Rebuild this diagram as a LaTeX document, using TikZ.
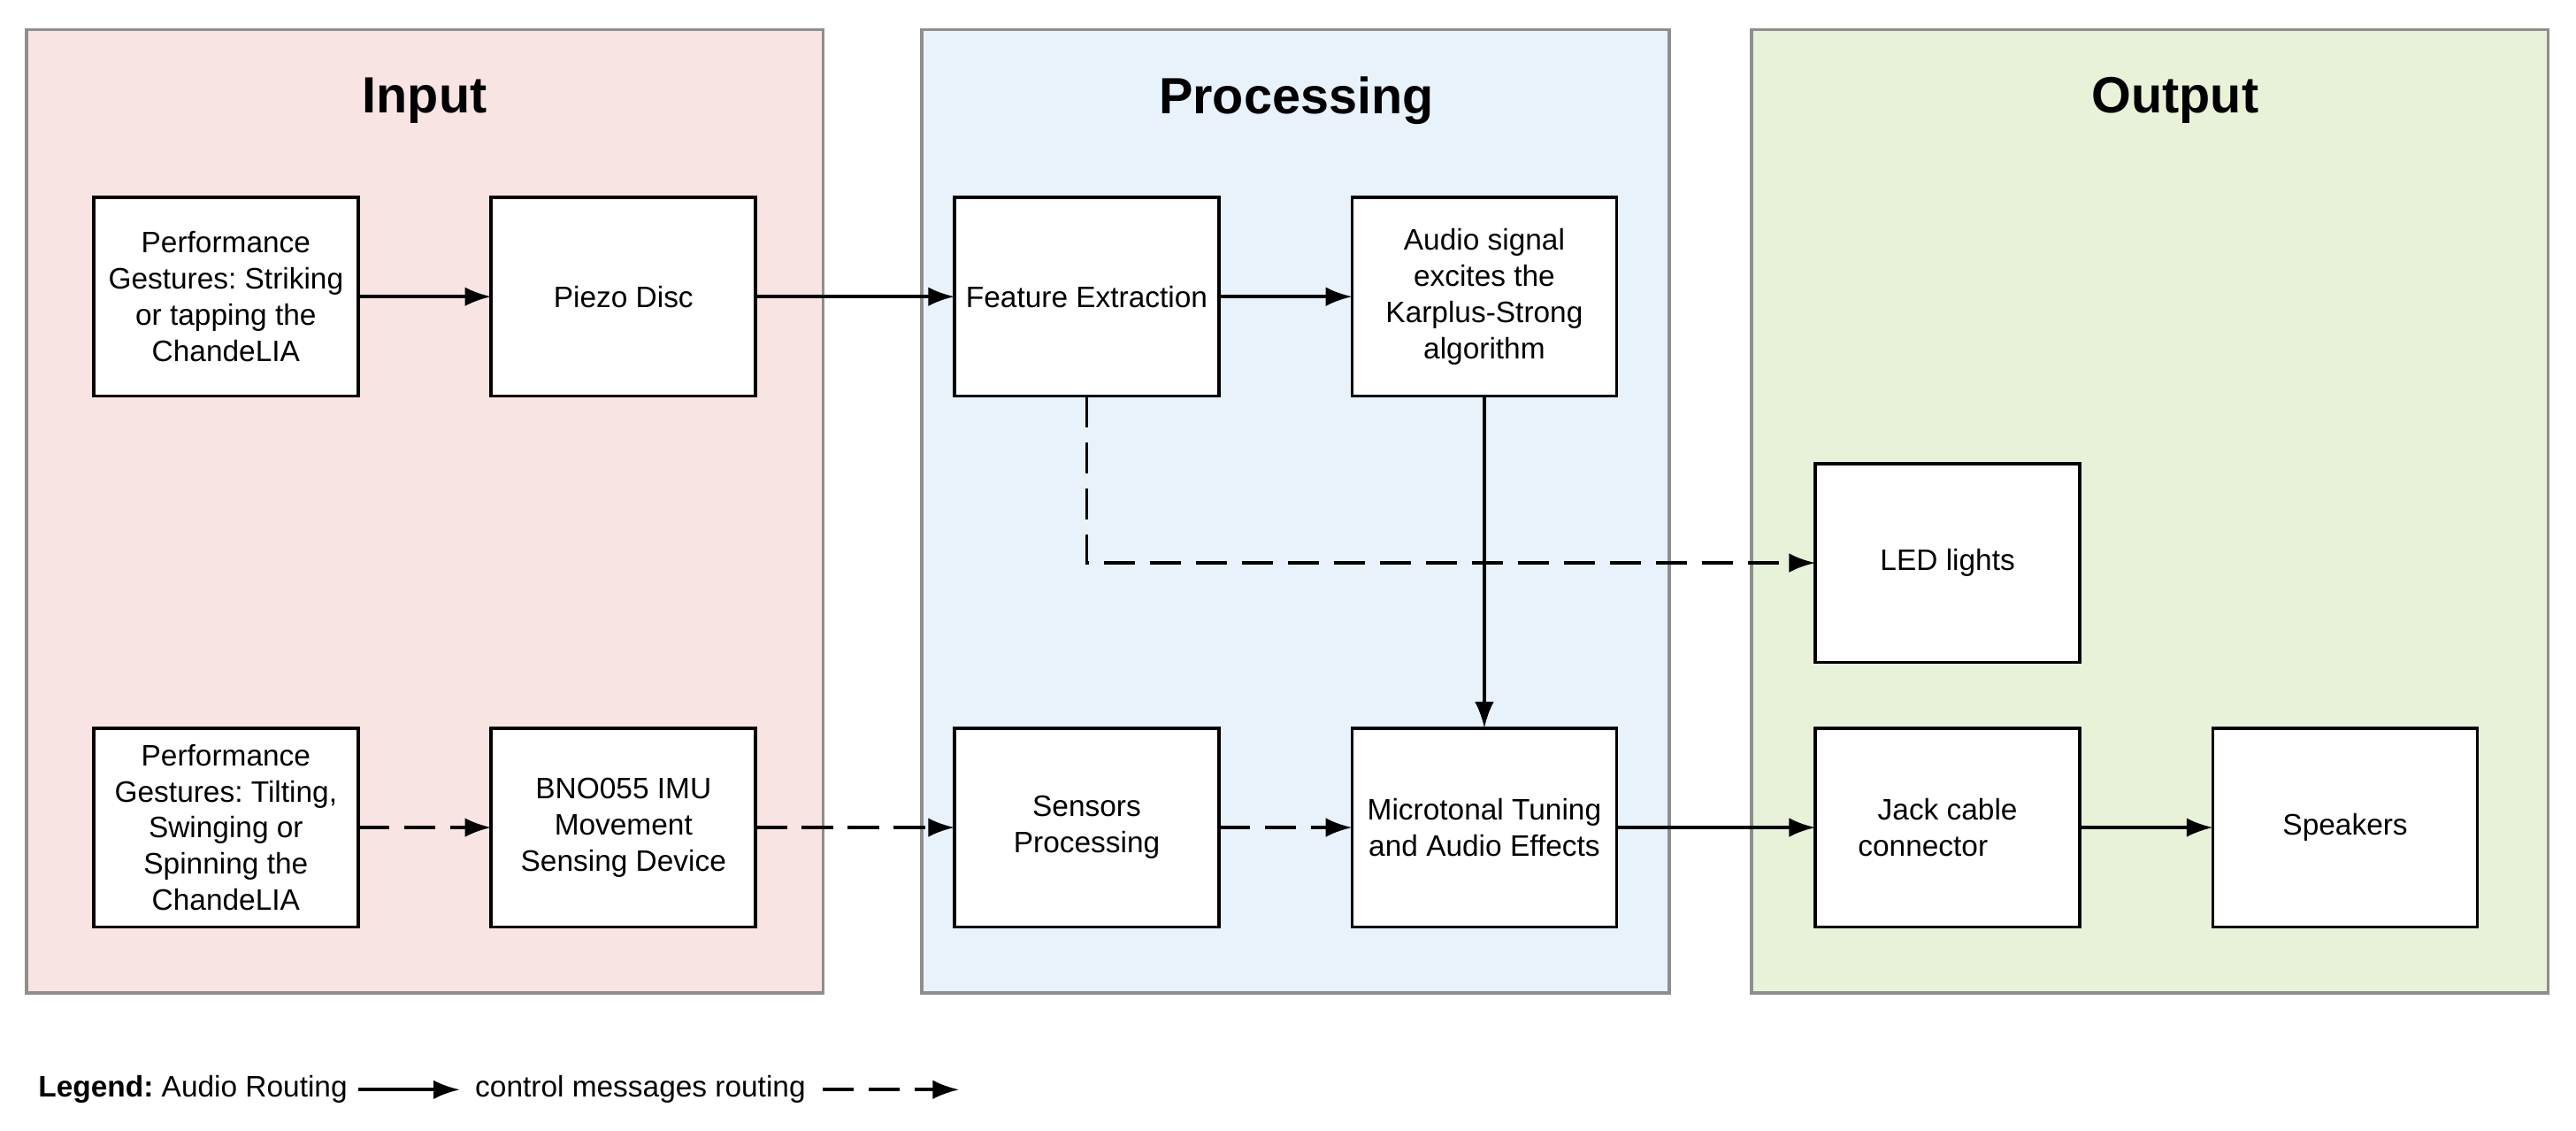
\documentclass[tikz,border=0pt]{standalone}
\usepackage{fontspec}
\setmainfont{Liberation Sans}
\usepackage{tikz}
\usetikzlibrary{positioning}
\usetikzlibrary{arrows.meta}
\definecolor{inputbg}{HTML}{F8E4E2}
\definecolor{procbg}{HTML}{E8F2FB}
\definecolor{outbg}{HTML}{E8F2D9}
\definecolor{panelline}{HTML}{8E8E8E}
\frenchspacing

\begin{document}
\begin{tikzpicture}[x=0.5pt, y=-0.5pt,
    font=\fontsize{9}{11}\selectfont,
    panel/.style={draw=panelline, line width=1pt},
    title/.style={font=\fontsize{15.5}{18}\selectfont\bfseries},
    block/.style={draw, fill=white, line width=1pt, outer sep=0pt,
      minimum width=80.5pt, minimum height=60.5pt, align=center},
    audio/.style={-{Latex[length=8pt,width=5.8pt]}, line width=1pt},
    control/.style={audio, dash pattern=on 9.5pt off 4.5pt},
    node distance=40.5pt and 40.5pt]

  \useasboundingbox (0,0) rectangle (1568,688);

  %% panels
  \draw[panel, fill=inputbg] (16,18) rectangle (501,604);
  \draw[panel, fill=procbg] (561,18) rectangle (1016,604);
  \draw[panel, fill=outbg] (1066,18) rectangle (1551,604);
  \node[title] (intitle) at (258.5,61) {Input};
  \node[title] (proctitle) at (789,61) {Processing};
  \node[title] (outtitle) at (1324,61) {Output};

  %% striking path
  \node[block] (gest1) at (137.5,180.5) {Performance\\Gestures: Striking\\or tapping the\\ChandeLIA};
  \node[block, right=of gest1] (piezo) {Piezo Disc};
  \node[block, right=60.5pt of piezo] (feat) {Feature Extraction};
  \node[block, right=of feat] (karplus) {Audio signal\\excites the\\Karplus-Strong\\algorithm};

  %% movement path
  \node[block, below=101pt of gest1] (gest2) {Performance\\Gestures: Tilting,\\Swinging or\\Spinning the\\ChandeLIA};
  \node[block, right=of gest2] (imu) {BNO055 IMU\\Movement\\Sensing Device};
  \node[block, right=60.5pt of imu] (sensors) {Sensors\\Processing};
  \node[block, right=of sensors] (tuning) {Microtonal Tuning\\and Audio Effects};

  %% output
  \node[block, right=60.5pt of tuning] (jack) {Jack cable\\connector\hspace*{15pt}};
  \node[block, right=of jack] (speakers) {Speakers};
  \node[block, above=20pt of jack] (leds) {LED lights};

  %% routing
  \draw[audio] (gest1) -- (piezo);
  \draw[audio] (piezo) -- (feat);
  \draw[audio] (feat) -- (karplus);
  \draw[audio] (karplus) -- (tuning);
  \draw[control] (feat.south) |- (leds);
  \draw[control] (gest2) -- (imu);
  \draw[control] (imu) -- (sensors);
  \draw[control] (sensors) -- (tuning);
  \draw[audio] (tuning) -- (jack);
  \draw[audio] (jack) -- (speakers);

  %% legend
  \node[anchor=west, inner sep=0pt] (legend) at (23,663) {\textbf{Legend:} Audio Routing};
  \node[right=38.5pt of legend, inner sep=0pt] (ctrl) {control messages routing};
  \coordinate[right=46.5pt of ctrl] (ctrlend);
  \draw[audio] ([xshift=3pt]legend.east) -- ([xshift=-4.5pt]ctrl.west);
  \draw[control] ([xshift=5pt]ctrl.east) -- (ctrlend);

\end{tikzpicture}
\end{document}
